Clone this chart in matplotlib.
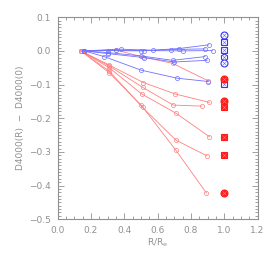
import matplotlib
matplotlib.use('Agg')
import matplotlib.pyplot as plt
import numpy as np
from matplotlib.ticker import MultipleLocator, FuncFormatter

# radial profiles  D4000(R) - D4000(0)
red_x = [[0.14, 0.35, 0.51, 0.69, 0.90],
         [0.14, 0.31, 0.515, 0.706, 0.911],
         [0.14, 0.31, 0.51, 0.694, 0.865],
         [0.14, 0.31, 0.505, 0.71, 0.911],
         [0.14, 0.31, 0.51, 0.71, 0.897],
         [0.14, 0.31, 0.50, 0.71, 0.893]]
red_y = [[0.0, 0.003, -0.018, -0.037, -0.088],
         [0.0, -0.042, -0.094, -0.128, -0.153],
         [0.0, -0.045, -0.108, -0.161, -0.164],
         [0.0, -0.050, -0.128, -0.185, -0.255],
         [0.0, -0.060, -0.168, -0.265, -0.312],
         [0.0, -0.065, -0.160, -0.295, -0.422]]

blue_x = [[0.16, 0.38, 0.57, 0.73, 0.907],
          [0.16, 0.30, 0.50, 0.68, 0.885],
          [0.16, 0.35, 0.52, 0.754, 0.93],
          [0.16, 0.30, 0.50, 0.69, 0.885],
          [0.16, 0.30, 0.52, 0.70, 0.897],
          [0.16, 0.28, 0.50, 0.716, 0.905]]
blue_y = [[0.0, 0.005, 0.002, 0.007, 0.018],
          [0.0, 0.001, 0.0, 0.004, 0.006],
          [0.0, 0.002, 0.001, 0.0, 0.001],
          [0.0, -0.005, -0.015, -0.028, -0.017],
          [0.0, -0.008, -0.020, -0.033, -0.028],
          [0.0, -0.017, -0.057, -0.081, -0.091]]

# symbols at R = Re
blue_sym_y = [0.048, 0.025, 0.003, -0.019, -0.037, -0.098]
blue_sym_m = ['o', 's', 's', 'h', 'o', 's']
red_sym_y = [-0.084, -0.148, -0.168, -0.255, -0.310, -0.423]
red_sym_m = ['o', 'o', 's', 's', 's', 'o']

fig = plt.figure(figsize=(2.74, 2.57), dpi=100)
ax = fig.add_axes([0.21, 0.147, 0.73, 0.786])

gray = '#909090'
red_line = '#ff8080'
blue_line = '#7070ff'

for xs, ys in zip(red_x, red_y):
    ax.plot(xs, ys, color=red_line, lw=0.6, marker='o', ms=3, mfc='none',
            mec=red_line, mew=0.5)
for xs, ys in zip(blue_x, blue_y):
    ax.plot(xs, ys, color=blue_line, lw=0.6, marker='o', ms=3, mfc='none',
            mec=blue_line, mew=0.5)

for y, m in zip(blue_sym_y, blue_sym_m):
    ax.plot(1.0, y, marker=m, ms=5, mfc='white', mec='#3535ff', mew=0.8)
    ax.plot(1.0, y, marker='x', ms=2.2, mec='#6060ff', mew=0.4)
for y, m in zip(red_sym_y, red_sym_m):
    ax.plot(1.0, y, marker=m, ms=5, mfc='#ff1a1a', mec='#ff1a1a', mew=0.8)
    ax.plot(1.0, y, marker='x', ms=2.2, mec='#ff8c8c', mew=0.4)

ax.set_xlim(0, 1.2)
ax.set_ylim(-0.5, 0.1)
ax.xaxis.set_major_locator(MultipleLocator(0.2))
ax.xaxis.set_minor_locator(MultipleLocator(0.05))
ax.yaxis.set_major_locator(MultipleLocator(0.1))
ax.yaxis.set_minor_locator(MultipleLocator(0.01))
fmt = FuncFormatter(lambda v, p: ('%.1f' % v).replace('-', '\u2212'))
ax.xaxis.set_major_formatter(fmt)
ax.yaxis.set_major_formatter(fmt)

ax.tick_params(which='both', direction='in', top=True, right=True,
               colors=gray, labelsize=6.5, width=0.6)
ax.tick_params(which='major', length=4, pad=5)
ax.tick_params(which='minor', length=2)
for s in ax.spines.values():
    s.set_color(gray)
    s.set_linewidth(0.8)

ax.set_xlabel('R/R$_{\\rm e}$', fontsize=6.5, color=gray, labelpad=1)
ax.set_ylabel('D4000(R)  \u2212  D4000(0)', fontsize=6.5, color=gray, labelpad=3)

plt.savefig('out.png', dpi=100)
